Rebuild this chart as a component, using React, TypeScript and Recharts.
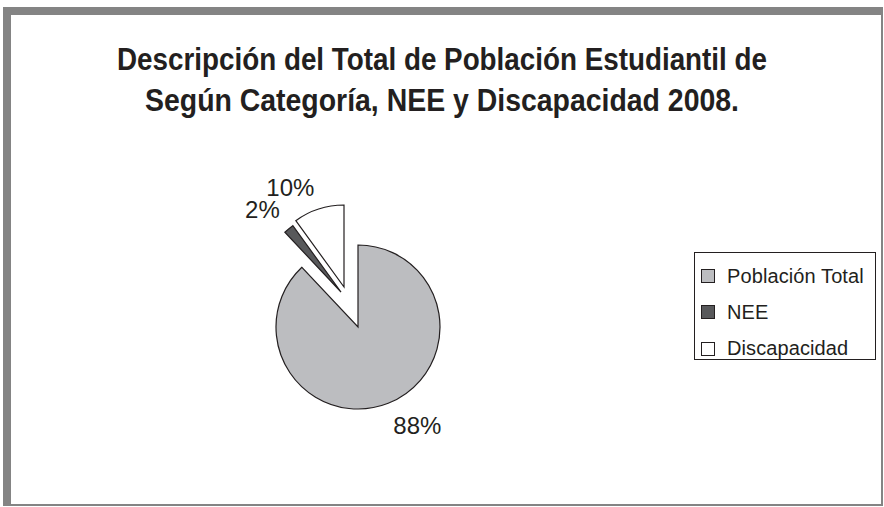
import React from 'react';
import { PieChart, Pie, Cell, Legend } from 'recharts';

const CATEGORIES = ['Población Total', 'NEE', 'Discapacidad'];
const VALUES = [88, 2, 10];
const PERCENT_LABELS = ['88%', '2%', '10%'];
const TITLE_LINES = [
  'Descripción del Total de Población Estudiantil de',
  'Según Categoría, NEE y Discapacidad 2008.',
];

// Colors for the slices and legend swatches
const COLORS = ['#bcbdc0', '#58595b', '#ffffff'];
const INK = '#231f20';
// how far each slice is pulled out of the pie, in px
const EXPLODE = [
  [0, 0],
  [-17, -35],
  [-14, -40],
];

const data = CATEGORIES.map((name, i) => ({ name, value: VALUES[i], label: PERCENT_LABELS[i] }));

const CX = 358;
const CY = 327;
const R = 82;
const RADIAN = Math.PI / 180;
const LABEL_FONT = 24;

const renderLabel = (show: number) => (props: any) => {
  if (props.index !== show) return null;
  const r = props.outerRadius + 14;
  const x = props.cx + r * Math.cos(-props.midAngle * RADIAN);
  const y = props.cy + r * Math.sin(-props.midAngle * RADIAN);
  const below = y > props.cy;
  return (
    <text
      x={x}
      y={below ? y + LABEL_FONT * 0.72 : y}
      textAnchor={x > props.cx ? 'start' : 'end'}
      fill={INK}
      fontSize={LABEL_FONT}
      fontFamily="Liberation Sans, Arial, sans-serif"
    >
      {props.payload.label}
    </text>
  );
};

const LegendBox = () => (
  <div
    style={{
      width: 182,
      height: 108,
      boxSizing: 'border-box',
      border: `1px solid ${INK}`,
      background: '#fff',
      paddingTop: 5,
      fontFamily: 'Liberation Sans, Arial, sans-serif',
      fontSize: 20,
      color: INK,
    }}
  >
    {CATEGORIES.map((name, i) => (
      <div key={name} style={{ display: 'flex', alignItems: 'center', height: 36.3 }}>
        <span
          style={{
            display: 'inline-block',
            width: 12,
            height: 12,
            marginLeft: 6,
            marginRight: 12,
            background: COLORS[i],
            border: `1px solid ${INK}`,
          }}
        />
        <span style={{ letterSpacing: 0.1 }}>{name}</span>
      </div>
    ))}
  </div>
);

export default function App() {
  return (
    <div style={{ position: 'absolute', left: 0, top: 0, width: 884, height: 507, background: '#fff' }}>
      <div
        style={{
          position: 'absolute',
          left: 3,
          top: 7,
          width: 880,
          height: 499,
          boxSizing: 'border-box',
          borderStyle: 'solid',
          borderColor: '#848484',
          borderWidth: '8px 2px 2px 8px',
        }}
      />
      <svg width={884} height={507} style={{ position: 'absolute', left: 0, top: 0 }}>
        {TITLE_LINES.map((line, i) => (
          <text
            key={i}
            x={442}
            y={i === 0 ? 70 : 111}
            textAnchor="middle"
            fontFamily="Liberation Sans, Arial, sans-serif"
            fontWeight="bold"
            fontSize={32}
            fill={INK}
            textLength={i === 0 ? 650 : 594}
            lengthAdjust="spacingAndGlyphs"
          >
            {line}
          </text>
        ))}
      </svg>
      <div style={{ position: 'absolute', left: 0, top: 0 }}>
        <PieChart width={884} height={507} margin={{ top: 0, right: 0, bottom: 0, left: 0 }}>
          {EXPLODE.map(([dx, dy], p) => (
            <Pie
              key={p}
              data={data}
              dataKey="value"
              nameKey="name"
              cx={CX + dx}
              cy={CY + dy}
              outerRadius={R}
              startAngle={90}
              endAngle={-270}
              label={renderLabel(p)}
              labelLine={false}
              isAnimationActive={false}
            >
              {data.map((entry, i) => (
                <Cell
                  key={`cell-${i}`}
                  fill={i === p ? COLORS[i] : 'none'}
                  stroke={i === p ? INK : 'none'}
                  strokeWidth={1.2}
                />
              ))}
            </Pie>
          ))}
          <Legend
            layout="vertical"
            align="right"
            verticalAlign="top"
            content={() => <LegendBox />}
            wrapperStyle={{ left: 694, top: 252, width: 182, height: 108 }}
          />
        </PieChart>
      </div>
    </div>
  );
}
